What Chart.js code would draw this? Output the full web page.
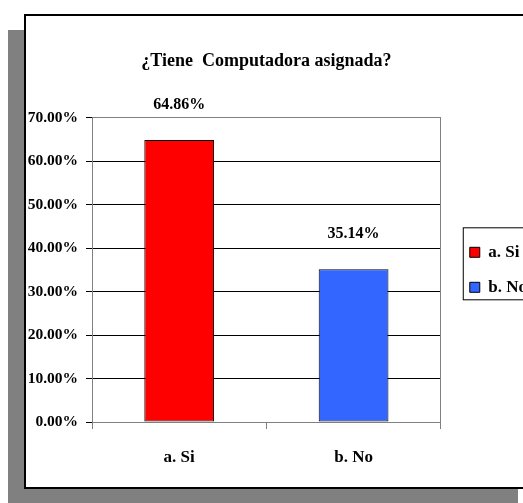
<!DOCTYPE html>
<html>
<head>
<meta charset="utf-8">
<script src="https://cdn.jsdelivr.net/npm/chart.js@4"></script>
<style>
  html, body { margin: 0; padding: 0; background: #fff; overflow: hidden; width: 523px; height: 503px; }
  #shadow { position: absolute; left: 8px; top: 30px; width: 510px; height: 473px; background: #808080; }
  #frame { position: absolute; left: 24px; top: 14px; width: 600px; height: 475px; background: #fff; border: 2px solid #000; box-sizing: border-box; }
  #wrap { position: absolute; left: 0; top: 0; width: 620px; height: 503px; }
</style>
</head>
<body>
<div id="shadow"></div>
<div id="frame"></div>
<div id="wrap"><canvas id="computadora"></canvas></div>
<script>
const categorias = ['a. Si', 'b. No'];
const porcentajes = [64.86, 35.14];
const colores = ['#FF0000', '#3366FF'];
const marcas_y = [0, 10, 20, 30, 40, 50, 60, 70];

const serif = "'Liberation Serif', 'DejaVu Serif', serif";
const gris = '#808080';

// etiquetas de valor encima de cada barra
const etiquetasValor = {
    id : 'etiquetasValor',
    afterDatasetsDraw(chart) {
        const ctx = chart.ctx;
        const meta = chart.getDatasetMeta(0);
        ctx.save();
        ctx.font = 'bold 16px ' + serif;
        ctx.fillStyle = '#000';
        ctx.textAlign = 'center';
        ctx.textBaseline = 'middle';
        meta.data.forEach((bar, i) => {
            ctx.fillText(porcentajes[i].toFixed(2) + '%', bar.x, bar.y - 35);
        });
        ctx.restore();
    }
};

// recuadro de la leyenda
const marcoLeyenda = {
    id : 'marcoLeyenda',
    afterDraw(chart) {
        const hb = chart.legend.legendHitBoxes;
        if (!hb || !hb.length) return;
        const ctx = chart.ctx;
        const last = hb[hb.length - 1];
        const x = hb[0].left - 6.5;
        const top = hb[0].top + hb[0].height / 2 - 24.5;
        const bottom = last.top + last.height / 2 + 12.5;
        ctx.save();
        ctx.strokeStyle = '#000';
        ctx.lineWidth = 1;
        ctx.strokeRect(x, top, chart.width + 10 - x, bottom - top);
        ctx.restore();
    }
};

const grafico = document.getElementById('computadora').getContext('2d');
const computadoraBar = new Chart(grafico, {
    type : 'bar',
    data : {
        labels : categorias,
        datasets : [{
            data : porcentajes,
            backgroundColor : colores,
            borderColor : '#000',
            borderWidth : 1,
            borderSkipped : false,
            categoryPercentage : 1,
            barPercentage : 0.4
        }]
    },
    options : {
        responsive : true,
        maintainAspectRatio : false,
        animation : false,
        layout : { padding : { left : 0, right : 83, top : 0, bottom : 0 } },
        scales : {
            x : {
                afterFit : s => { s.height = 81; },
                grid : { offset : true, drawOnChartArea : false, drawTicks : true, tickLength : 7, tickColor : gris },
                border : { display : true, color : gris, width : 1 },
                ticks : { color : '#000', padding : 18, font : { family : serif, size : 17, weight : 'bold' } }
            },
            y : {
                min : 0,
                max : 70,
                afterFit : s => { s.width = 92; },
                afterBuildTicks : s => { s.ticks = marcas_y.map(v => ({ value : v })); },
                grid : {
                    color : c => (c.tick.value === 70 || c.tick.value === 0) ? gris : '#000',
                    tickColor : '#000',
                    tickLength : 6,
                    lineWidth : 1
                },
                border : { display : true, color : gris, width : 1 },
                ticks : {
                    color : '#000',
                    padding : 8,
                    font : { family : serif, size : 15.5, weight : 'bold' },
                    callback : v => v.toFixed(2) + '%'
                }
            },
            y2 : {
                position : 'right',
                afterFit : s => { s.width = 11; },
                grid : { display : false },
                ticks : { display : false },
                border : { display : true, color : gris, width : 1 }
            }
        },
        plugins : {
            title : {
                display : true,
                text : '¿Tiene  Computadora asignada?',
                fullSize : false,
                color : '#000',
                font : { family : serif, size : 18, weight : 'bold', lineHeight : 1.2 },
                padding : { top : 51, bottom : 45 }
            },
            legend : {
                display : true,
                position : 'right',
                fullSize : false,
                labels : {
                    boxWidth : 10,
                    boxHeight : 10,
                    padding : 18,
                    color : '#000',
                    font : { family : serif, size : 17, weight : 'bold' },
                    generateLabels : chart => categorias.map((c, i) => ({
                        text : c,
                        fillStyle : colores[i],
                        strokeStyle : '#000',
                        lineWidth : 1,
                        index : i
                    }))
                },
                onClick : null
            },
            tooltip : { enabled : false }
        }
    },
    plugins : [etiquetasValor, marcoLeyenda]
});
</script>
</body>
</html>
